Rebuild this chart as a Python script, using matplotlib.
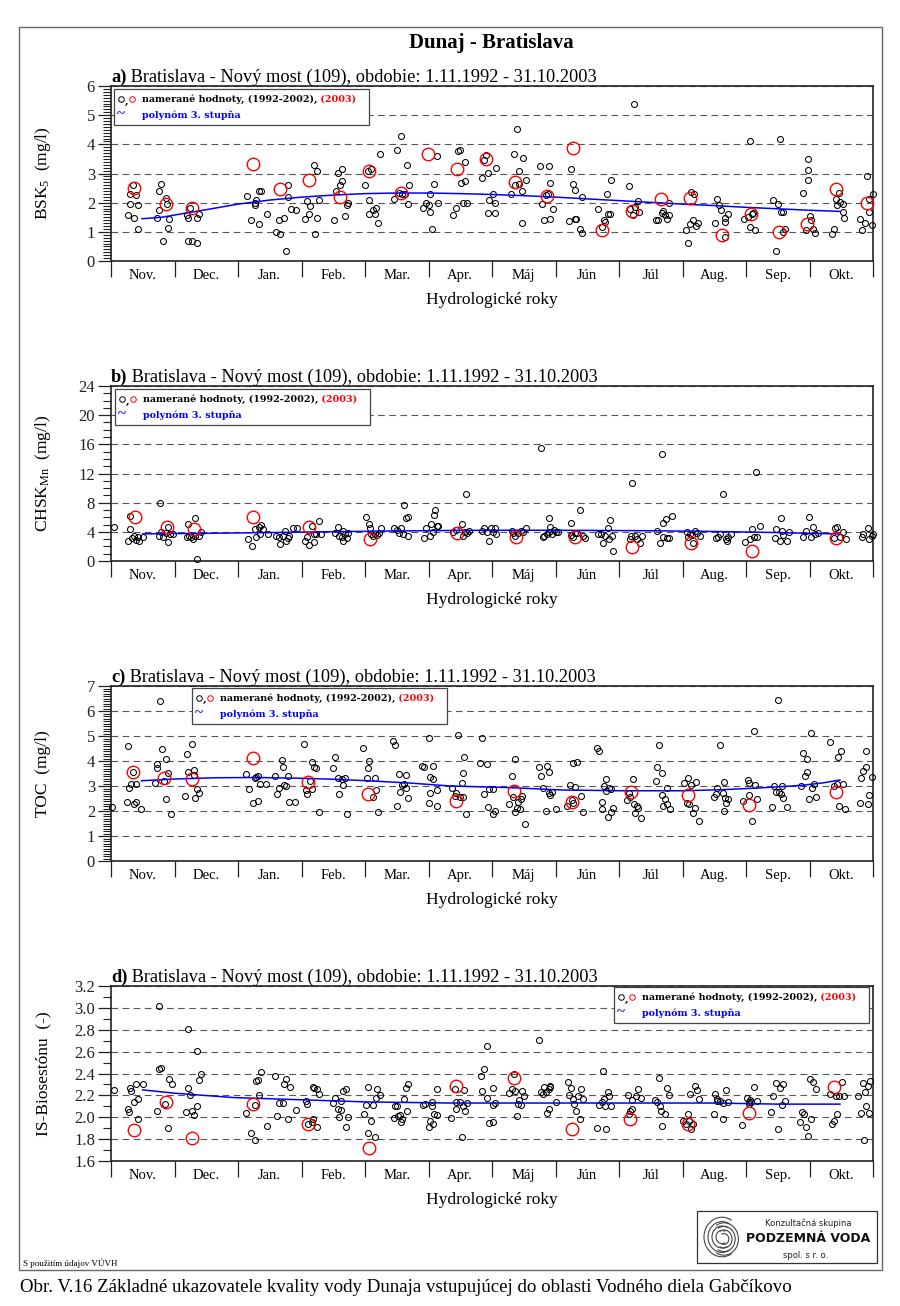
import matplotlib
matplotlib.use("Agg")
import matplotlib.pyplot as plt
from matplotlib.patches import Rectangle, Arc
from matplotlib.ticker import MultipleLocator, FixedLocator, FixedFormatter, NullFormatter, FormatStrFormatter

plt.rcParams['font.family'] = ['Liberation Serif', 'DejaVu Serif']
plt.rcParams['mathtext.fontset'] = 'custom'
plt.rcParams['mathtext.rm'] = 'Liberation Serif'
plt.rcParams['mathtext.it'] = 'Liberation Serif:italic'

# ---------------- data ----------------
months = ["Nov.", "Dec.", "Jan.", "Feb.", "Mar.", "Apr.", "Máj", "Jún", "Júl", "Aug.", "Sep.", "Okt."]

# a) BSK5
a_x = [0.26,0.30,0.30,0.34,0.37,0.39,0.43,0.43,0.73,0.76,0.76,0.79,0.82,0.86,0.88,0.89,0.92,
       1.19,1.22,1.24,1.22,1.28,1.35,1.35,1.38,
       2.14,2.20,2.27,2.27,2.29,2.33,2.33,2.37,2.46,2.60,2.64,2.66,2.72,2.76,2.78,2.79,2.83,2.91,
       3.06,3.09,3.12,3.14,3.19,3.22,3.25,3.25,3.28,3.51,3.55,3.58,3.61,3.64,3.64,3.68,3.71,3.74,
       4.00,4.04,4.07,4.07,4.09,4.13,4.16,4.17,4.20,4.23,4.46,4.50,4.54,4.56,4.59,4.63,4.66,4.67,4.69,
       4.92,4.96,5.00,5.03,5.03,5.05,5.09,5.14,5.15,
       5.38,5.44,5.51,5.54,5.58,5.58,5.60,5.47,5.49,5.84,5.88,5.91,5.94,5.95,6.01,6.04,5.93,6.04,6.07,
       6.30,6.34,6.37,6.40,6.43,6.43,6.47,6.47,6.49,6.54,6.76,6.79,6.82,6.85,6.88,6.90,6.92,6.92,6.96,
       7.22,7.25,7.28,7.31,7.30,7.33,7.38,7.42,7.42,7.67,7.73,7.76,7.78,7.81,7.83,7.86,7.87,
       8.16,8.18,8.22,8.24,8.25,8.30,8.32,8.58,8.62,8.67,8.70,8.72,8.75,8.78,8.79,
       9.06,9.08,9.12,9.16,9.13,9.18,9.21,9.25,9.51,9.54,9.58,9.61,9.67,9.67,9.67,9.72,
       9.97,10.03,10.06,10.07,10.10,10.11,10.14,10.43,10.47,10.51,10.53,10.55,10.59,10.59,10.62,
       10.89,10.95,10.97,10.98,10.98,11.01,11.03,11.06,11.09,11.35,11.39,11.42,11.44,11.47,11.48,11.52,11.53,11.55,
       11.80,11.83,11.87,11.90,11.93,11.94,11.98,12.00]
a_y = [1.59,1.94,2.29,2.59,1.47,2.25,1.91,1.09,1.47,1.76,2.40,2.63,0.70,2.16,1.94,1.14,1.44,
       1.59,1.47,1.83,0.70,0.70,0.63,1.47,1.62,
       2.23,1.39,1.91,2.00,2.08,1.26,2.40,2.40,1.60,0.99,1.39,0.94,1.47,0.33,2.19,2.59,1.79,1.74,
       1.43,2.05,1.60,1.87,3.30,0.94,3.09,1.49,2.08,1.39,2.40,3.03,2.59,2.73,3.14,1.54,1.91,2.00,
       2.62,3.09,2.08,1.60,3.14,1.76,1.60,1.83,1.30,3.68,2.14,3.79,2.33,4.29,2.31,2.31,3.30,1.94,2.59,
       1.82,2.00,1.91,2.29,1.68,1.09,2.63,3.60,1.99,
       1.59,1.83,2.69,1.99,2.73,3.39,1.99,3.76,3.82,2.85,3.47,3.65,3.03,2.08,2.31,1.99,1.65,1.65,3.19,
       2.31,3.68,2.59,4.54,3.07,2.65,2.40,1.30,3.53,2.79,3.25,1.94,1.39,2.25,2.31,3.25,2.67,1.43,1.79,
       1.37,3.17,2.65,2.42,1.43,1.43,1.09,0.97,2.19,1.79,1.17,1.39,1.34,2.29,1.60,1.62,2.79,
       2.56,1.77,1.57,5.37,1.85,2.06,1.68,1.39,1.39,1.65,1.71,1.57,1.43,1.59,1.99,
       1.05,0.62,1.26,1.39,2.37,2.29,1.19,1.30,1.30,2.14,1.93,1.76,1.47,1.34,0.82,1.60,
       1.43,1.51,1.17,4.10,1.60,1.65,1.05,2.08,0.33,1.97,4.19,1.68,0.99,1.68,1.09,
       2.33,1.07,2.79,3.11,3.51,1.53,1.42,1.11,0.97,0.94,1.11,2.14,1.93,2.33,2.02,1.97,1.68,1.49,
       1.45,1.07,1.30,2.90,2.14,1.68,1.25,2.29]
a_red_x = [0.36,0.86,1.28,2.24,2.66,3.12,3.61,4.07,4.57,4.99,5.45,5.90,6.36,6.86,7.28,7.74,8.20,8.66,9.12,9.62,10.08,10.52,10.96,11.42,11.90]
a_red_y = [2.51,1.97,1.82,3.33,2.46,2.77,2.19,3.09,2.34,3.66,3.17,3.51,2.72,2.23,3.86,1.07,1.70,2.11,2.17,0.90,1.60,0.98,1.28,2.48,1.99]
a_fit_x = [0.49,0.8,1.2,1.5,2.0,2.5,3.0,3.5,4.0,4.5,5.0,5.5,6.0,6.5,7.0,7.5,8.0,8.5,9.0,9.5,10.0,10.5,11.0,11.48]
a_fit_y = [1.45,1.50,1.65,1.76,1.95,2.09,2.19,2.26,2.31,2.33,2.33,2.31,2.28,2.24,2.19,2.13,2.07,2.01,1.95,1.90,1.84,1.79,1.74,1.70]

# b) CHSK_Mn
b_x = [0.04,0.27,0.30,0.30,0.33,0.36,0.39,0.42,0.44,0.50,
       0.75,0.77,0.79,0.82,0.86,0.90,0.90,0.93,0.97,
       1.19,1.22,1.23,1.26,1.29,1.32,1.33,1.36,1.39,1.42,
       2.15,2.22,2.27,2.29,2.33,2.35,2.36,2.40,2.48,2.60,2.64,2.66,2.71,2.74,2.76,2.78,2.80,2.86,2.93,
       3.06,3.09,3.12,3.16,3.19,3.20,3.23,3.27,3.31,
       3.53,3.57,3.59,3.63,3.66,3.66,3.68,3.71,3.74,
       4.02,4.07,4.08,4.10,4.13,4.16,4.19,4.22,4.25,
       4.46,4.50,4.54,4.57,4.60,4.62,4.65,4.67,4.67,
       4.93,4.96,5.02,5.04,5.07,5.09,5.10,5.13,5.15,
       5.38,5.44,5.52,5.55,5.57,5.59,5.60,5.63,
       5.84,5.87,5.92,5.95,5.98,6.01,6.05,6.07,
       6.31,6.33,6.37,6.41,6.46,6.49,6.53,6.77,
       6.80,6.82,6.86,6.90,6.90,6.91,6.94,6.97,7.01,7.04,
       7.24,7.25,7.28,7.31,7.34,7.39,7.43,7.46,
       7.67,7.71,7.75,7.78,7.82,7.85,7.86,7.89,7.91,
       8.17,8.19,8.21,8.25,8.29,8.33,8.36,
       8.60,8.65,8.67,8.70,8.74,8.76,8.79,8.83,8.70,
       9.07,9.09,9.12,9.15,9.17,9.19,9.23,9.27,
       9.52,9.56,9.59,9.63,9.68,9.70,9.72,9.76,
       9.98,10.06,10.09,10.12,10.15,10.17,10.22,
       10.46,10.48,10.55,10.54,10.57,10.59,10.64,10.68,
       10.90,10.94,10.99,11.03,11.06,11.09,11.13,
       11.38,11.40,11.44,11.48,11.53,11.57,
       11.82,11.85,11.92,11.94,11.98,12.00]
b_y = [4.71,2.74,6.22,4.34,3.11,3.43,2.88,3.25,2.74,3.25,
       3.47,8.00,3.93,3.25,3.79,2.65,4.71,3.66,3.70,
       3.25,5.03,3.47,3.25,3.02,3.47,5.94,0.27,3.43,3.93,
       3.02,2.10,4.34,3.34,4.71,3.70,4.94,4.39,3.66,3.47,3.25,2.33,3.47,4.16,2.74,3.11,3.47,4.57,4.57,
       2.74,3.25,2.19,4.85,3.66,2.65,3.70,5.53,3.70,
       3.79,4.71,3.47,3.25,4.11,2.74,3.66,3.20,3.79,
       5.99,5.03,4.48,3.70,3.47,3.70,3.57,3.79,4.48,
       4.48,4.25,3.79,4.57,3.66,7.68,5.85,6.08,3.47,
       3.11,4.57,3.43,5.07,4.02,6.31,6.99,4.85,4.85,
       3.93,4.25,5.03,3.47,3.93,9.19,3.79,4.16,
       4.16,4.57,3.93,2.74,4.57,4.02,4.48,3.66,
       4.16,3.79,3.47,3.79,4.16,3.93,4.48,15.5,
       3.25,3.47,3.66,3.93,5.85,4.71,3.70,4.25,3.93,4.02,
       5.26,3.57,3.25,3.79,3.79,6.99,3.47,3.11,
       3.66,3.66,2.51,3.47,4.48,3.02,5.62,3.47,1.37,
       3.02,3.47,10.65,3.47,3.02,2.51,3.47,
       4.11,2.51,14.67,5.17,5.76,3.20,3.20,6.17,3.34,
       3.93,3.34,3.70,3.57,2.51,4.16,3.79,3.43,
       3.11,3.25,3.70,9.14,3.02,2.74,3.34,3.70,
       2.65,3.02,4.39,3.34,12.25,3.34,4.80,
       3.11,4.34,5.85,2.74,4.16,3.57,2.74,3.93,
       3.25,4.16,6.08,3.25,4.71,3.70,3.79,
       3.11,4.48,4.71,3.34,3.93,3.02,
       3.34,3.66,4.48,3.02,3.47,3.70]
b_red_x = [0.38,0.88,1.31,2.24,3.12,4.08,5.45,6.38,7.30,8.21,9.13,10.09,11.42]
b_red_y = [5.99,4.71,4.43,5.99,4.62,3.02,3.79,3.34,3.34,1.87,2.42,1.42,3.11]
b_fit_x = [0.5,1.5,2.5,3.5,4.5,5.5,6.5,7.5,8.5,9.5,10.5,11.48]
b_fit_y = [3.72,3.80,3.90,4.02,4.12,4.20,4.22,4.20,4.15,4.05,3.90,3.70]

# c) TOC
c_x = [0.02,0.25,0.27,0.28,0.31,0.35,0.37,0.40,0.40,0.48,
       0.70,0.73,0.73,0.77,0.81,0.83,0.86,0.87,0.90,0.94,
       1.17,1.19,1.22,1.27,1.30,1.31,1.32,1.35,1.39,
       2.12,2.18,2.24,2.26,2.29,2.31,2.32,2.35,2.44,2.58,2.61,2.64,2.70,2.71,2.72,2.76,2.78,2.80,2.90,
       3.04,3.07,3.09,3.13,3.17,3.17,3.20,3.23,3.27,
       3.49,3.53,3.57,3.59,3.63,3.66,3.69,3.72,
       3.97,4.03,4.04,4.07,4.12,4.16,4.18,4.20,
       4.44,4.48,4.51,4.53,4.55,4.59,4.61,4.64,4.64,4.67,
       4.89,4.93,5.00,5.01,5.02,5.03,5.07,5.07,5.13,5.14,
       5.37,5.42,5.44,5.47,5.49,5.52,5.55,5.55,5.56,5.59,
       5.85,5.81,5.87,5.92,5.93,5.95,6.01,6.01,6.05,
       6.27,6.31,6.33,6.36,6.37,6.40,6.41,6.44,6.46,6.48,6.52,
       6.74,6.77,6.80,6.85,6.87,6.90,6.89,6.91,6.94,7.01,
       7.18,7.23,7.26,7.27,7.28,7.30,7.34,7.40,7.43,
       7.65,7.69,7.73,7.74,7.76,7.79,7.80,7.82,7.85,7.88,7.88,7.90,
       8.13,8.16,8.18,8.22,8.24,8.25,8.28,8.30,8.34,
       8.58,8.60,8.63,8.67,8.67,8.70,8.72,8.75,8.76,8.80,
       9.03,9.07,9.09,9.11,9.13,9.17,9.19,9.22,9.26,
       9.49,9.53,9.55,9.59,9.63,9.65,9.66,9.69,9.72,9.67,
       9.96,10.03,10.05,10.05,10.09,10.12,10.14,10.18,
       10.41,10.44,10.48,10.51,10.52,10.55,10.57,10.58,10.64,
       10.86,10.90,10.93,10.96,10.96,10.99,11.03,11.04,11.07,11.10,
       11.32,11.45,11.49,11.39,11.43,11.46,11.52,11.56,
       11.79,11.81,11.85,11.89,11.89,11.92,11.94,11.99]
c_y = [2.17,2.35,4.61,2.91,3.08,3.57,2.28,2.37,3.08,2.07,
       3.11,3.87,3.71,6.40,4.47,3.21,4.08,2.47,3.51,1.87,
       2.60,4.28,3.57,4.68,3.64,3.44,2.53,2.88,2.71,
       3.47,2.88,2.31,3.31,3.37,2.40,3.41,3.08,3.08,3.41,2.67,2.91,4.04,3.75,3.04,3.01,3.41,2.37,2.37,
       4.68,2.84,2.67,3.21,3.95,2.87,3.77,3.71,1.97,
       3.71,4.15,3.31,2.67,3.28,3.04,3.31,1.88,
       4.51,3.31,3.71,4.01,2.55,3.31,2.84,1.97,
       4.80,4.64,2.20,3.47,2.77,3.04,3.08,2.91,3.44,2.51,
       3.80,3.75,4.93,2.31,2.71,3.35,3.81,3.28,2.84,2.20,
       2.93,2.61,2.71,5.04,2.55,3.13,2.57,3.51,4.15,1.88,
       4.93,3.91,2.68,3.88,2.17,2.88,1.88,2.88,2.00,
       2.27,3.41,2.57,1.97,4.07,2.13,2.35,2.07,2.47,2.60,1.48,
       3.75,3.40,2.93,2.01,3.80,3.57,2.73,2.64,2.75,2.07,
       2.20,3.04,2.44,2.31,3.93,2.95,3.95,2.61,1.97,
       4.51,4.40,2.35,2.07,3.00,3.28,2.80,1.77,2.91,1.97,2.87,2.13,
       2.44,2.71,2.57,3.28,2.27,1.91,2.21,2.13,1.71,
       3.21,3.77,4.64,3.53,2.64,2.21,2.47,2.91,2.27,2.08,
       3.13,2.31,3.31,2.28,3.04,1.91,2.13,3.17,1.60,
       2.57,2.68,2.93,4.64,2.73,3.17,2.01,2.31,2.47,2.51,
       2.41,3.24,3.13,2.64,1.61,5.20,3.04,2.48,
       2.17,3.00,2.75,6.44,2.75,2.67,3.00,2.53,2.17,
       3.00,4.31,3.40,4.08,3.57,2.48,5.11,2.91,3.08,2.57,
       4.77,4.17,4.41,3.00,3.08,2.21,3.08,2.08,
       2.31,3.31,3.60,4.41,3.77,2.27,2.64,3.37]
c_red_x = [0.35,0.83,1.27,2.23,3.11,4.05,5.43,6.35,7.26,8.19,9.09,10.05,11.41]
c_red_y = [3.57,3.31,3.28,4.11,3.17,2.68,2.41,2.81,2.35,2.77,2.64,2.24,2.75]
c_fit_x = [0.48,1.0,1.66,2.3,2.98,3.5,4.03,4.7,5.34,6.23,7.12,8.07,9.0,9.6,10.2,10.85,11.2,11.48]
c_fit_y = [3.21,3.28,3.33,3.34,3.31,3.27,3.21,3.12,3.00,2.94,2.84,2.81,2.81,2.85,2.92,3.02,3.12,3.24]

# d) IS-Biosestonu
d_x = [0.04,0.26,0.29,0.30,0.32,0.37,0.39,0.42,0.43,0.50,
       0.72,0.75,0.76,0.79,0.85,0.89,0.92,0.96,
       1.18,1.22,1.22,1.24,1.28,1.31,1.35,1.35,1.38,1.41,
       2.13,2.20,2.26,2.26,2.29,2.32,2.33,2.36,2.46,2.59,2.61,2.64,2.71,2.73,2.76,2.79,2.82,2.91,
       3.07,3.09,3.11,3.16,3.18,3.18,3.20,3.24,3.24,3.28,
       3.49,3.53,3.57,3.59,3.62,3.62,3.66,3.70,3.70,3.73,
       3.98,4.02,4.05,4.05,4.09,4.12,4.16,4.17,4.19,4.23,
       4.45,4.47,4.50,4.52,4.55,4.56,4.59,4.61,4.64,4.66,4.68,
       4.91,4.95,5.00,5.03,5.05,5.06,5.07,5.08,5.14,5.14,
       5.36,5.42,5.44,5.43,5.50,5.52,5.54,5.56,5.58,5.60,
       5.82,5.85,5.88,5.92,5.92,5.95,6.01,6.01,6.02,6.05,
       6.27,6.31,6.34,6.36,6.39,6.41,6.43,6.45,6.48,6.51,6.74,
       6.77,6.80,6.82,6.85,6.87,6.89,6.90,6.91,6.92,7.00,
       7.19,7.22,7.25,7.28,7.29,7.32,7.36,7.39,7.40,7.43,
       7.65,7.69,7.73,7.75,7.76,7.78,7.80,7.83,7.85,7.88,
       8.14,8.16,8.18,8.20,8.20,8.27,8.30,8.34,
       8.57,8.60,8.63,8.64,8.66,8.68,8.73,8.76,8.79,
       9.01,9.05,9.08,9.11,9.12,9.13,9.16,9.19,9.23,9.26,
       9.49,9.51,9.54,9.55,9.59,9.63,9.64,9.68,9.71,
       9.94,10.02,10.04,10.05,10.06,10.08,10.13,10.17,
       10.39,10.43,10.48,10.50,10.54,10.56,10.59,10.61,
       10.85,10.88,10.91,10.95,10.98,11.01,11.02,11.06,11.10,
       11.32,11.35,11.39,11.42,11.44,11.47,11.51,11.54,
       11.77,11.81,11.84,11.86,11.87,11.89,11.92,11.94,11.96]
d_y = [2.25,2.08,2.05,2.27,2.24,2.14,2.30,2.17,1.98,2.30,
       2.06,2.44,3.02,2.45,2.12,1.90,2.35,2.30,
       2.05,2.27,2.81,2.20,2.06,2.02,2.10,2.61,2.34,2.40,
       2.04,1.86,1.79,2.11,2.33,2.34,2.20,2.41,1.92,2.38,2.01,2.13,2.13,2.30,2.35,1.98,2.28,2.07,
       2.15,2.12,1.94,1.96,1.98,2.28,2.27,2.26,1.91,2.21,
       2.13,2.18,2.08,2.00,2.07,2.15,2.24,2.26,1.91,2.00,
       2.03,2.11,2.28,1.86,1.97,2.11,1.82,2.18,2.26,2.20,
       1.99,2.10,2.10,2.01,2.02,1.96,1.98,2.17,2.27,2.06,2.30,
       2.11,2.12,1.91,1.97,2.14,2.10,1.94,2.03,2.26,2.02,
       1.99,2.26,2.08,2.14,2.14,1.82,2.10,2.25,2.06,2.13,
       2.38,2.24,2.44,2.65,2.18,1.95,1.96,2.11,2.27,2.13,
       2.22,2.26,2.40,2.24,2.01,2.12,2.16,2.11,2.24,2.19,2.71,
       2.23,2.21,2.28,2.23,2.04,2.08,2.26,2.29,2.28,2.14,
       2.32,2.20,2.27,2.17,2.12,2.06,2.19,1.98,2.26,2.17,
       1.90,2.11,2.14,2.42,2.17,2.10,1.89,2.23,2.19,2.10,
       2.20,2.03,2.06,2.08,2.16,2.19,2.26,2.18,
       2.16,2.14,2.36,2.10,2.06,1.92,2.03,2.27,2.20,
       1.97,1.94,2.03,1.97,2.21,1.89,1.94,2.29,2.25,2.17,
       2.03,2.21,2.15,2.17,2.15,2.13,1.98,2.25,2.14,
       1.93,2.18,2.14,2.12,2.16,2.14,2.28,2.15,
       2.05,2.19,2.31,1.89,2.27,2.11,2.30,2.15,
       1.96,2.05,2.03,1.91,1.83,2.35,1.98,2.32,2.26,
       2.21,1.94,1.97,2.19,2.03,2.19,2.32,2.19,
       2.19,2.04,2.31,1.79,2.23,2.10,2.29,2.04,2.33]
d_red_x = [0.37,0.86,1.28,2.23,3.11,4.06,5.43,6.35,7.26,8.17,9.09,10.04,11.39]
d_red_y = [1.88,2.14,1.81,2.12,1.94,1.72,2.29,2.36,1.89,1.98,1.94,2.04,2.28]
d_fit_x = [0.5,1.0,1.93,2.98,4.03,5.34,6.5,7.5,8.5,9.5,10.5,11.48]
d_fit_y = [2.25,2.22,2.18,2.16,2.14,2.13,2.13,2.13,2.13,2.13,2.12,2.12]

# ---------------- figure ----------------
W, H = 900, 1306
fig = plt.figure(figsize=(9, 13.06), dpi=100)
fig.patch.set_facecolor('white')

def fx(px):
    return px / W

def fy(py):
    return 1 - py / H

AX_L, AX_R = 111, 873
AW, AH = AX_R - AX_L, 175

fig.patches.append(Rectangle((fx(19), fy(1270)), (882 - 19) / W, (1270 - 27) / H,
                             transform=fig.transFigure, fill=False, edgecolor='#666666', lw=1.0))
fig.text(fx(491), fy(43), 'Dunaj - Bratislava', ha='center', va='center',
         fontsize=15, fontweight='bold')

SUB = ' Bratislava - Nový most (109), obdobie: 1.11.1992 - 31.10.2003'
LEGFONT = ['DejaVu Serif']


def legend(ax, left_px, top_px):
    x0 = left_px / AW
    y1 = 1 - top_px / AH
    w, h = 255 / AW, 36 / AH
    ax.add_patch(Rectangle((x0, y1 - h), w, h, transform=ax.transAxes, facecolor='white',
                           edgecolor='#444444', lw=0.9, zorder=8, clip_on=False))
    yl1 = y1 - 10 / AH
    yl2 = y1 - 26 / AH
    ax.plot([x0 + 7 / AW], [yl1], 'o', ms=4.0, mfc='none', mec='black', mew=0.7,
            transform=ax.transAxes, zorder=9, clip_on=False)
    ax.text(x0 + 11 / AW, yl1 - 2 / AH, ',', fontsize=7.5, fontweight='bold', ha='left',
            va='center', transform=ax.transAxes, zorder=9, family=LEGFONT)
    ax.plot([x0 + 18 / AW], [yl1], 'o', ms=4.0, mfc='none', mec='red', mew=0.7,
            transform=ax.transAxes, zorder=9, clip_on=False)
    t = ax.text(x0 + 28 / AW, yl1, 'namerané hodnoty, (1992-2002),', fontsize=6.9,
                fontweight='bold', ha='left', va='center', transform=ax.transAxes, zorder=9,
                family=LEGFONT)
    ax.annotate(' (2003)', xy=(1, 0.5), xycoords=t, ha='left', va='center', fontsize=6.9,
                fontweight='bold', color='red', zorder=9, family=LEGFONT)
    ax.text(x0 + 7 / AW, yl2, '~', fontsize=11, fontweight='bold', color='blue', ha='center',
            va='center', transform=ax.transAxes, zorder=9)
    ax.text(x0 + 28 / AW, yl2, 'polynóm 3. stupňa', fontsize=6.9, fontweight='bold',
            color='blue', ha='left', va='center', transform=ax.transAxes, zorder=9,
            family=LEGFONT)


panels = [
    dict(top=86, letter='a)', x=a_x, y=a_y, rx=a_red_x, ry=a_red_y, fx_=a_fit_x, fy_=a_fit_y,
         ylim=(0, 6), major=1, minor=0.1, fmt='%d', ylabel='BSK$_5$  (mg/l)', leg=(3, 3)),
    dict(top=386, letter='b)', x=b_x, y=b_y, rx=b_red_x, ry=b_red_y, fx_=b_fit_x, fy_=b_fit_y,
         ylim=(0, 24), major=4, minor=1, fmt='%d', ylabel='CHSK$_{\\mathrm{Mn}}$  (mg/l)', leg=(4, 3)),
    dict(top=686, letter='c)', x=c_x, y=c_y, rx=c_red_x, ry=c_red_y, fx_=c_fit_x, fy_=c_fit_y,
         ylim=(0, 7), major=1, minor=0.1, fmt='%d', ylabel='TOC  (mg/l)', leg=(81, 2)),
    dict(top=986, letter='d)', x=d_x, y=d_y, rx=d_red_x, ry=d_red_y, fx_=d_fit_x, fy_=d_fit_y,
         ylim=(1.6, 3.2), major=0.2, minor=0.1, fmt='%.1f', ylabel='IS-Biosestónu  (-)', leg=(503, 1)),
]

for p in panels:
    bottom = p['top'] + AH
    ax = fig.add_axes([fx(AX_L), fy(bottom), AW / W, AH / H])
    ax.set_xlim(0, 12)
    ax.set_ylim(*p['ylim'])
    for s in ax.spines.values():
        s.set_linewidth(1.2)
        s.set_color('#222222')
    # y axis
    ax.yaxis.set_major_locator(MultipleLocator(p['major']))
    ax.yaxis.set_minor_locator(MultipleLocator(p['minor']))
    ax.yaxis.set_major_formatter(FormatStrFormatter(p['fmt']))
    ax.tick_params(axis='y', which='major', direction='out', length=9.5, width=0.9,
                   pad=2, labelsize=12, colors='#222222')
    ax.tick_params(axis='y', which='minor', direction='out', length=5.5, width=0.8,
                   colors='#222222')
    # x axis: month boundaries + centered month names
    ax.xaxis.set_major_locator(FixedLocator(list(range(13))))
    ax.xaxis.set_major_formatter(NullFormatter())
    ax.xaxis.set_minor_locator(FixedLocator([i + 0.5 for i in range(12)]))
    ax.xaxis.set_minor_formatter(FixedFormatter(months))
    ax.tick_params(axis='x', which='major', direction='out', length=11.5, width=0.9,
                   colors='#222222')
    ax.tick_params(axis='x', which='minor', length=0, pad=6, labelsize=10.5)
    # grid
    ax.set_axisbelow(True)
    ax.yaxis.grid(True, which='major', linestyle=(0, (6, 4)), color='#555555', lw=0.8)
    # data
    ax.plot(p['x'], p['y'], 'o', ms=4.3, mfc='none', mec='black', mew=0.75,
            zorder=3, clip_on=False)
    ax.plot(p['fx_'], p['fy_'], '-', color='#0000ff', lw=1.1, zorder=4)
    ax.plot(p['rx'], p['ry'], 'o', ms=9, mfc='none', mec='#ff0000', mew=1.0,
            zorder=5, clip_on=False)
    # labels
    ax.text(-68 / AW, 0.5, p['ylabel'], rotation=90, ha='center', va='center',
            fontsize=12.5, transform=ax.transAxes)
    ax.text(0.5, -39 / AH, 'Hydrologické roky', ha='center', va='center',
            fontsize=12.5, transform=ax.transAxes)
    t = ax.annotate(p['letter'], xy=(0, 1), xycoords='axes fraction', xytext=(0, 3),
                    textcoords='offset points', ha='left', va='baseline',
                    fontsize=13.2, fontweight='bold')
    ax.annotate(SUB, xy=(1, 0), xycoords=t, ha='left', va='bottom', fontsize=13.2)
    legend(ax, *p['leg'])

# footer
fig.text(fx(23), fy(1263), 'S použitím údajov VÚVH', fontsize=6.5, ha='left', va='center')
fig.text(fx(20), fy(1287),
         'Obr. V.16 Základné ukazovatele kvality vody Dunaja vstupujúcej do oblasti Vodného diela Gabčíkovo',
         fontsize=13.6, ha='left', va='center')

# logo box
fig.patches.append(Rectangle((fx(697), fy(1263)), (877 - 697) / W, (1263 - 1211) / H,
                             transform=fig.transFigure, fill=False, edgecolor='#333333', lw=0.9))
lax = fig.add_axes([fx(702), fy(1259), 40 / W, 44 / H])
lax.set_xlim(0, 40)
lax.set_ylim(0, 44)
lax.axis('off')
for r in [6, 10, 14, 18]:
    lax.add_patch(Arc((20, 22), 2 * r, 2 * r * 1.1, theta1=60, theta2=300, color='#444444', lw=0.8))
    lax.add_patch(Arc((22, 20), 2 * r * 0.8, 2 * r * 0.9, theta1=-120, theta2=120, color='#444444', lw=0.8))
fig.text(fx(808), fy(1223), 'Konzultačná skupina', family='DejaVu Sans', fontsize=6,
         ha='center', va='center', color='#222222')
fig.text(fx(808), fy(1239), 'PODZEMNÁ VODA', family='DejaVu Sans', fontsize=9,
         fontweight='bold', ha='center', va='center', color='#111111')
fig.text(fx(806), fy(1255), 'spol. s r. o.', family='DejaVu Sans', fontsize=6,
         ha='center', va='center', color='#222222')

fig.savefig('out.png', dpi=100, facecolor='white')
